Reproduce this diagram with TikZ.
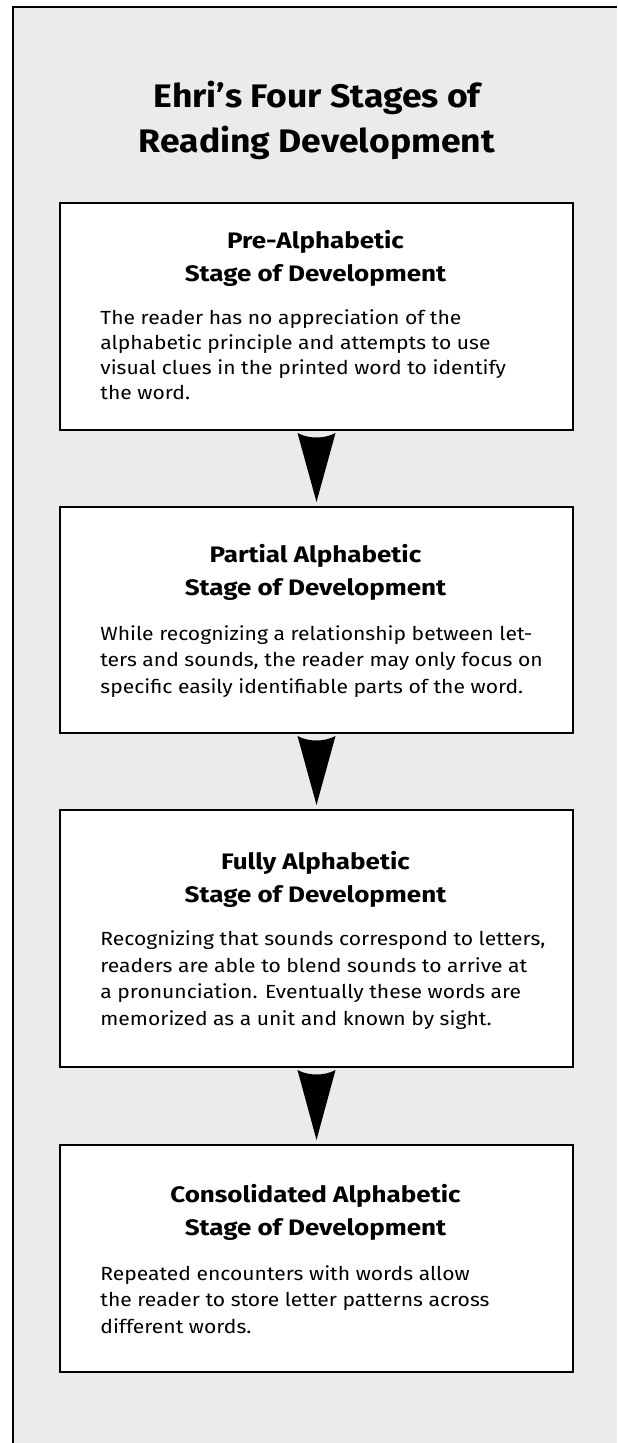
\documentclass[tikz,border=0pt]{standalone}
\usepackage{fontspec}
\setmainfont{Fira Sans}
\newfontfamily\stbodyfont{Fira Sans}[FakeStretch=1.11]
\newfontfamily\stheadfont{Fira Sans}[FakeStretch=1.16]
\newfontfamily\sttitlefont{Fira Sans}[FakeStretch=1.09]
\usetikzlibrary{calc}
\tikzset{
  stagebox/.style={draw=black, line width=0.8pt, fill=white, inner sep=0pt, outer sep=0pt,
    minimum width=256.5pt},
  headtext/.style={font=\stheadfont\bfseries\fontsize{11.2pt}{16.5pt}\selectfont, align=center, inner sep=0pt, anchor=base},
  bodytext/.style={font=\stbodyfont\fontsize{9.5pt}{13.2pt}\selectfont, align=left, inner sep=0pt, anchor=base west},
  titletext/.style={font=\sttitlefont\bfseries\fontsize{16.3pt}{22.5pt}\selectfont, align=center, inner sep=0pt, anchor=base},
  stagearrow/.style={fill=black}
}
\begin{document}
\begin{tikzpicture}[x=0.5pt,y=-0.5pt]
\useasboundingbox (0,0) rectangle (617,1443);
\fill[white] (0,0) rectangle (617,1443);
\fill[black!8] (13,7) rectangle (617,1443);
\draw[line width=1pt] (13,1443) -- (13,7) -- (617,7);

\node[titletext] (title) at (317,153) {Ehri’s Four Stages of\\Reading Development};

\node[stagebox, minimum height=113.5pt] (b1) at (316.5,316.5) {};
\node[stagebox, minimum height=113pt]   (b2) at (316.5,620) {};
\node[stagebox, minimum height=128.5pt] (b3) at (316.5,938.5) {};
\node[stagebox, minimum height=113.5pt] (b4) at (316.5,1258.5) {};

\node[headtext] (h1) at ($(b1.north)+(-1,79)$) {Pre-Alphabetic\\Stage of Development};
\node[bodytext, font=\stbodyfont\fontsize{9.5pt}{12.5pt}\selectfont] (t1) at ($(b1.north west)+(40,197)$) {The reader has no appreciation of the\\alphabetic principle and attempts to use\\visual clues in the printed word to identify\\the word.};

\node[headtext] (h2) at ($(b2.north)+(-1,88)$) {Partial Alphabetic\\Stage of Development};
\node[bodytext] (t2) at ($(b2.north west)+(40,186)$) {While recognizing a relationship between let-\\ters and sounds, the reader may only focus on\\specific easily identifiable parts of the word.};

\node[headtext] (h3) at ($(b3.north)+(-1,92)$) {Fully Alphabetic\\Stage of Development};
\node[bodytext] (t3) at ($(b3.north west)+(40,215)$) {Recognizing that sounds correspond to letters,\\readers are able to blend sounds to arrive at\\a pronunciation. Eventually these words are\\memorized as a unit and known by sight.};

\node[headtext] (h4) at ($(b4.north)+(-1,90)$) {Consolidated Alphabetic\\Stage of Development};
\node[bodytext] (t4) at ($(b4.north west)+(40,188)$) {Repeated encounters with words allow\\the reader to store letter patterns across\\different words.};

\foreach \a/\b in {b1/b2,b2/b3,b3/b4}{
  \fill[stagearrow] ($(\a.south)+(-19,3)$) .. controls ($(\a.south)+(-8,9)$) and ($(\a.south)+(8,9)$) .. ($(\a.south)+(19,3)$) -- ($(\b.north)+(0,-5)$) -- cycle;
}
\end{tikzpicture}
\end{document}
